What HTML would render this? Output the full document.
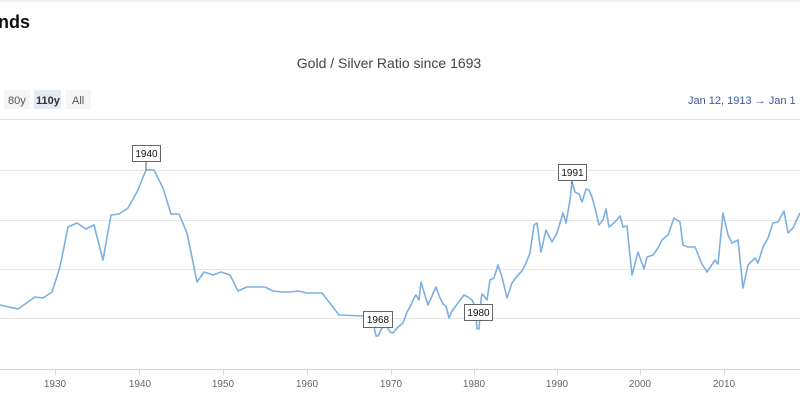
<!DOCTYPE html>
<html><head><meta charset="utf-8"><style>
html,body{margin:0;padding:0;background:#fff;width:800px;height:400px;overflow:hidden;font-family:"Liberation Sans",sans-serif}
</style></head><body>
<svg width="800" height="400" xmlns="http://www.w3.org/2000/svg" font-family="Liberation Sans, sans-serif">
<rect width="800" height="400" fill="#fff"/>
<line x1="0" y1="1" x2="800" y2="1" stroke="#ddd"/>
<text x="-2" y="28" font-size="18" font-weight="bold" fill="#111">nds</text>
<text x="389" y="68" font-size="14" fill="#444" text-anchor="middle">Gold / Silver Ratio since 1693</text>
<rect x="4" y="90" width="26" height="19" fill="#f4f5f7"/>
<text x="8" y="104" font-size="11" fill="#555">80y</text>
<rect x="34" y="90" width="27" height="19" fill="#e4e9f5"/>
<text x="36" y="104" font-size="11" font-weight="bold" fill="#333">110y</text>
<rect x="66" y="90" width="25" height="19" fill="#f4f5f7"/>
<text x="72" y="104" font-size="11" fill="#555">All</text>
<text x="688" y="104" font-size="11" fill="#3a5a9a">Jan 12, 1913  →  Jan 1</text>
<line x1="0" y1="119.5" x2="800" y2="119.5" stroke="#e4e4e4"/>
<g stroke="#e6e6e6" stroke-width="1">
<line x1="0" y1="170.5" x2="800" y2="170.5"/>
<line x1="0" y1="220.5" x2="800" y2="220.5"/>
<line x1="0" y1="269.5" x2="800" y2="269.5"/>
<line x1="0" y1="318.5" x2="800" y2="318.5"/>
</g>
<line x1="0" y1="369.5" x2="800" y2="369.5" stroke="#ccd6eb"/>
<g stroke="#ccd6eb">
<line x1="55.5" y1="370" x2="55.5" y2="375"/><line x1="139.5" y1="370" x2="139.5" y2="375"/><line x1="223.5" y1="370" x2="223.5" y2="375"/><line x1="307.5" y1="370" x2="307.5" y2="375"/><line x1="391.5" y1="370" x2="391.5" y2="375"/><line x1="474.5" y1="370" x2="474.5" y2="375"/><line x1="557.5" y1="370" x2="557.5" y2="375"/><line x1="640.5" y1="370" x2="640.5" y2="375"/><line x1="724.5" y1="370" x2="724.5" y2="375"/>
</g>
<g font-size="10" fill="#666" text-anchor="middle">
<text x="55" y="387">1930</text><text x="140" y="387">1940</text><text x="223" y="387">1950</text><text x="307" y="387">1960</text><text x="391" y="387">1970</text><text x="474" y="387">1980</text><text x="557" y="387">1990</text><text x="640" y="387">2000</text><text x="724" y="387">2010</text>
</g>
<polyline fill="none" stroke="#7cb0e0" stroke-width="1.6" stroke-linejoin="round" points="0,305 18,309 35,297 43,298 52,292 60,267 68,227 77,223 86,229 94,225 103,260 111,215 119,214 128,208 137,192 146,170 154,170 163,188 171,214 179,214 187,233 197,282 204,272 213,275 221,272 230,275 238,291 247,287 265,287 273,291 282,292 290,292 298,291 307,293 322,293 339,315 362,316 366,316 370,318 373,322 376,336 378,336 381,330 383,327 386,325 390,332 393,333 397,328 403,323 407,312 411,305 414,298 416,295 419,300 421,282 424,292 428,305 432,296 436,287 440,298 443,304 446,306 449,318 452,311 458,303 464,295 468,297 472,300 475,306 477,329 479,329 481,300 482,294 484,296 487,300 490,280 494,278 498,265 502,277 507,298 512,283 518,275 522,271 526,263 530,253 534,225 537,223 541,252 546,230 552,242 557,233 563,213 566,223 570,200 572,182 575,192 579,194 582,202 586,189 589,190 592,197 595,208 599,225 603,220 606,209 609,227 615,222 620,216 623,227 627,226 632,275 638,252 644,269 647,257 653,255 658,248 662,240 668,235 674,218 680,222 683,245 688,247 695,247 702,264 707,272 715,260 718,264 723,213 728,235 732,243 738,240 743,288 748,265 755,258 758,263 763,247 768,238 773,223 778,222 784,211 788,233 793,228 800,213"/>
<g font-size="10" fill="#111" text-anchor="middle">
<line x1="146" y1="161" x2="146" y2="170" stroke="#555"/>
<rect x="132.5" y="145.5" width="28" height="16" fill="#fff" stroke="#666"/>
<text x="146.5" y="157">1940</text>
<rect x="363.5" y="311.5" width="29" height="16" fill="#fff" stroke="#666"/>
<text x="378" y="323">1968</text>
<rect x="464.5" y="304.5" width="28" height="16" fill="#fff" stroke="#666"/>
<text x="478.5" y="316">1980</text>
<line x1="572" y1="180" x2="572" y2="184" stroke="#555"/>
<rect x="558.5" y="164.5" width="28" height="16" fill="#fff" stroke="#666"/>
<text x="572.5" y="176">1991</text>
</g>
</svg>
</body></html>
